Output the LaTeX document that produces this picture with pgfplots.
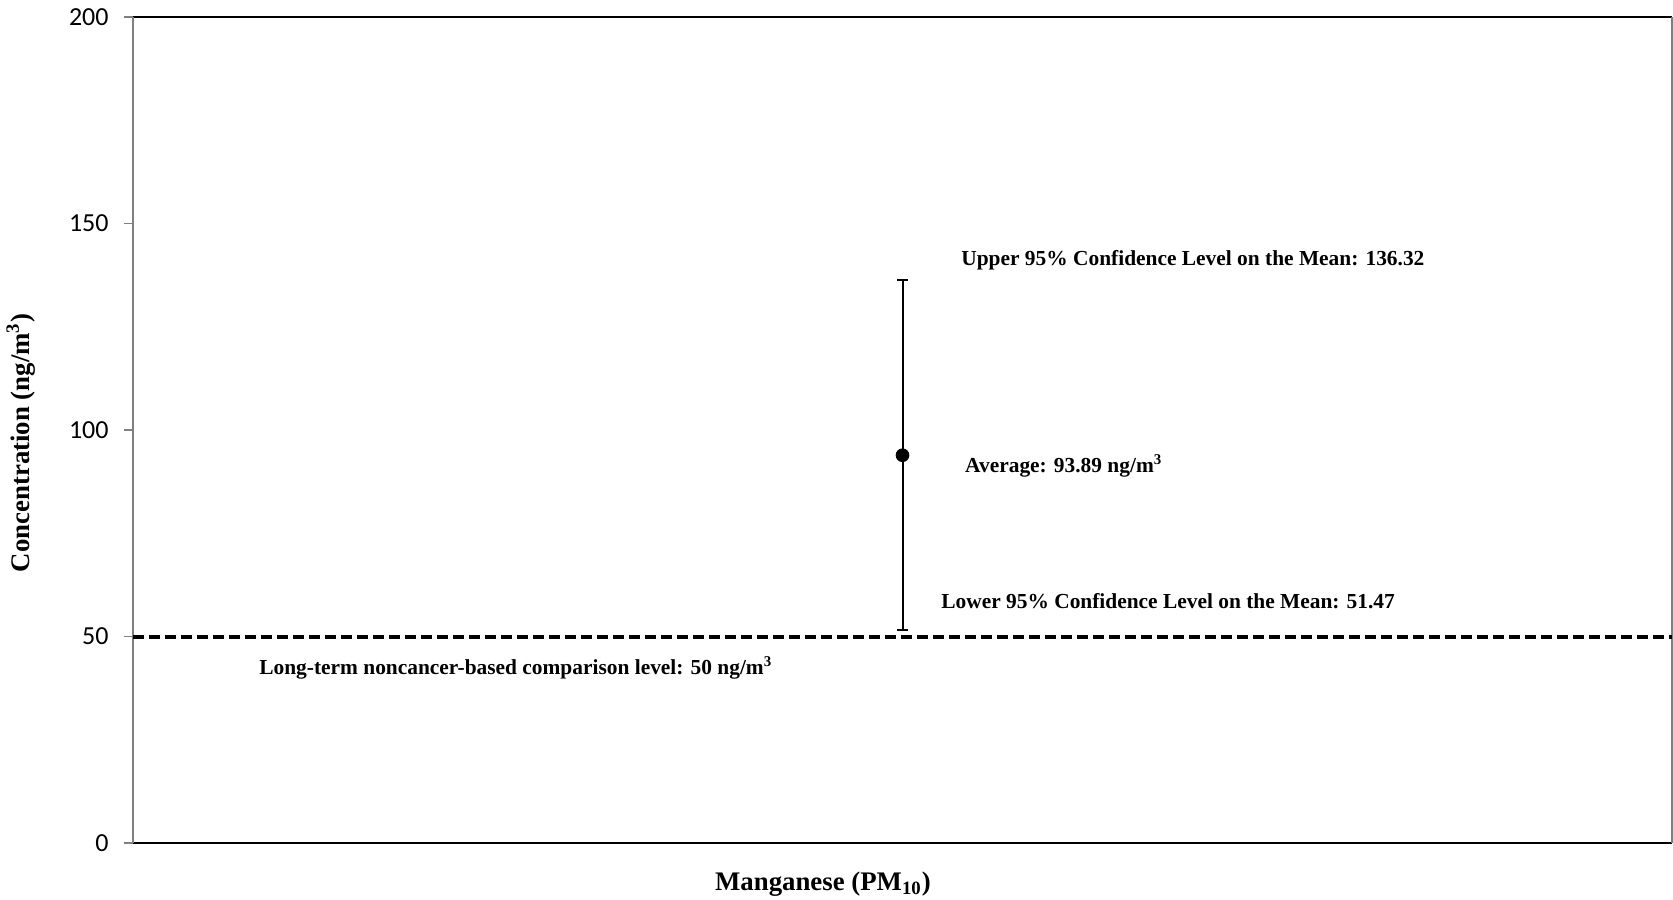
\documentclass[border=0pt]{standalone}
\usepackage{pgfplots}
\pgfplotsset{compat=1.18}
\usepackage{fontspec}
\setmainfont{Liberation Serif}
\newfontfamily\calibri{Carlito}

\begin{document}
\begin{tikzpicture}
\begin{axis}[
    scale only axis,
    width=769.5pt,
    height=413pt,
    xmin=0, xmax=2,
    ymin=0, ymax=200,
    xtick=\empty,
    ytick={0,50,100,150,200},
    ytick pos=left,
    tick align=outside,
    major tick length=4.5pt,
    tick style={gray, line width=0.8pt},
    separate axis lines,
    x axis line style={black, line width=1pt},
    y axis line style={gray, line width=0.8pt},
    /pgf/number format/assume math mode=true,
    yticklabel style={font=\calibri\fontsize{13}{13}\selectfont, inner sep=2pt, xshift=-5.5pt},
    clip=false,
]
% limit line at 50
\addplot[black, line width=2pt, dash pattern=on 5.5pt off 2.5pt]
    coordinates {(0,50) (2,50)};
% mean with 95% confidence limits
\addplot[black, only marks, mark=*, mark size=3.2pt,
    error bars/.cd, y dir=both, y explicit,
    error bar style={line width=1pt, black},
    error mark options={rotate=90, mark size=2.6pt, line width=1pt, black}]
    coordinates {(1,93.89) +- (0,42.43)};

\begin{scope}[font=\bfseries\fontsize{10.7}{12}\selectfont]
\node[anchor=west, inner sep=0pt] at (axis cs:1.076,141.0) {Upper 95\% Confidence Level on the Mean: 136.32};
\node[anchor=west, inner sep=0pt] at (axis cs:1.081,91.4) {Average: 93.89 ng/m\textsuperscript{3}};
\node[anchor=west, inner sep=0pt] at (axis cs:1.050,58.6) {Lower 95\% Confidence Level on the Mean: 51.47};
\node[anchor=west, inner sep=0pt] at (axis cs:0.1637,42.4) {Long-term noncancer-based comparison level: 50 ng/m\textsuperscript{3}};
\end{scope}

\node[rotate=90, anchor=center, inner sep=0pt, font=\bfseries\fontsize{13.4}{15}\selectfont]
    at (rel axis cs:-0.0728,0.4843) {Concentration (ng/m\textsuperscript{3})};
\node[anchor=base, inner sep=0pt, font=\bfseries\fontsize{13.4}{15}\selectfont]
    at (rel axis cs:0.4483,-0.0569) {Manganese (PM\textsubscript{10})};

\coordinate (sw) at (rel axis cs:0,0);
\coordinate (ne) at (rel axis cs:1,1);
\end{axis}
\pgfresetboundingbox
\path ([xshift=-66.5pt,yshift=-28pt]sw) rectangle ([xshift=0.5pt,yshift=8.5pt]ne);
\end{tikzpicture}
\end{document}
